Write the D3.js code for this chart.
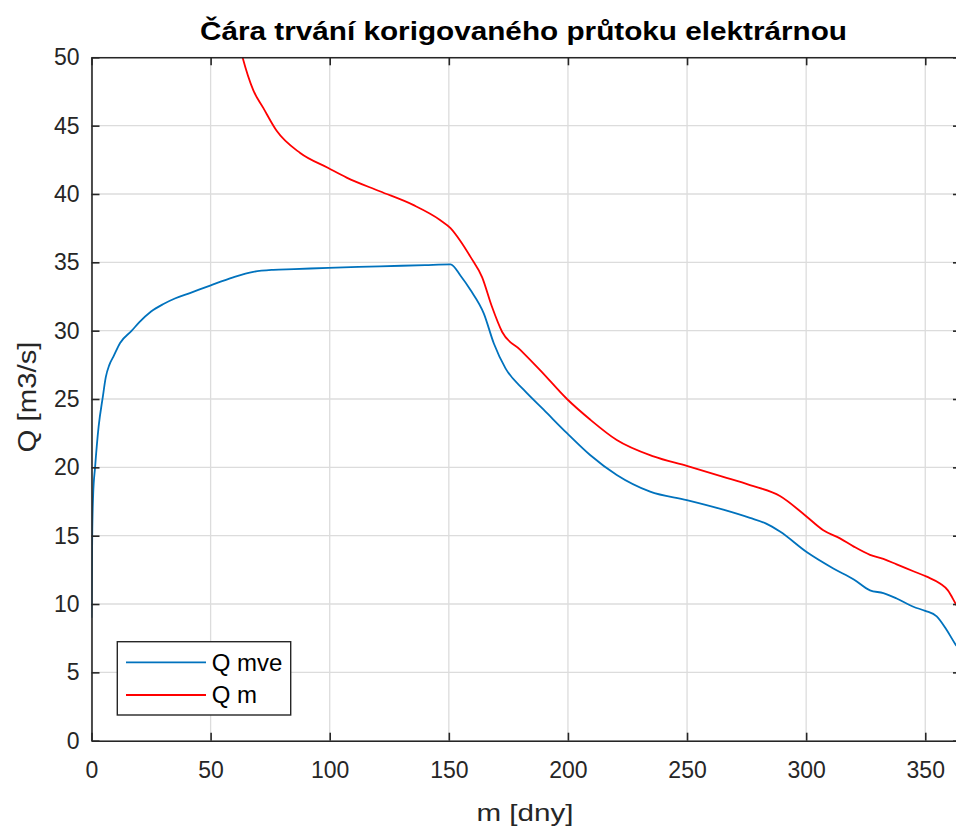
<!DOCTYPE html>
<html>
<head>
<meta charset="utf-8">
<script src="https://cdn.jsdelivr.net/npm/d3@7"></script>
<style>
  html, body { margin: 0; padding: 0; background: #fff; }
  svg { display: block; font-family: "Liberation Sans", Arial, Helvetica, sans-serif; }
</style>
</head>
<body>
<svg id="chart" width="956" height="827"></svg>
<script>
// ---- data ----
const titleText = "Čára trvání korigovaného průtoku elektrárnou";
const xLabel = "m [dny]";
const yLabel = "Q [m3/s]";
const seriesNames = ["Q mve", "Q m"];
const xTicks = [0, 50, 100, 150, 200, 250, 300, 350];
const yTicks = [0, 5, 10, 15, 20, 25, 30, 35, 40, 45, 50];

// Q mve (blue): [day, value]
const qmveDays = [0, 0.3, 0.7, 1.5, 3, 4.7, 6, 7.5, 9.2, 12, 16.9, 20, 25, 30.2, 35, 41.3, 49.8, 59.5, 67.9, 76.3, 85, 99.4, 121, 140, 150.7,
  155, 159.1, 164.7, 168.9, 173.8, 181.5, 189.9, 199.6, 209.3, 220.5, 234.5, 249.9, 265.2, 276.4, 283, 289, 300.2, 311.4, 320, 326.8, 332.4, 338, 345, 350, 354.8, 359, 362.5, 365];
const qmveVals = [9.0, 15.0, 18.0, 20.0, 23.0, 25.1, 26.6, 27.5, 28.1, 29.1, 30.0, 30.6, 31.4, 31.95, 32.35, 32.75, 33.3, 33.9, 34.3, 34.45, 34.5, 34.6, 34.7, 34.8, 34.85,
  34.0, 32.97, 31.25, 29.06, 27.24, 25.66, 24.2, 22.5, 20.9, 19.44, 18.22, 17.6, 16.9, 16.3, 15.9, 15.3, 13.8, 12.6, 11.8, 11.0, 10.8, 10.4, 9.8, 9.5, 9.1, 8.1, 7.1, 6.5];

// Q m (red): [day, value]
const qmDays = [55, 60, 63.1, 67.9, 72.1, 77.8, 87.6, 99.4, 107.1, 121, 135, 146.3, 150.7, 154.7, 159.1, 164, 168, 172.4, 180, 188.4, 199.6, 209.3, 220.5, 235.9, 249.9, 265.2, 276.4, 289, 299.5, 307.2, 314.2, 320, 326.8, 332.4, 338, 345, 350.6, 356.2, 359.5, 362.5, 365];
const qmVals = [57, 52.5, 50.2, 47.6, 46.3, 44.6, 43.0, 41.9, 41.2, 40.2, 39.2, 38.1, 37.5, 36.6, 35.4, 33.9, 31.8, 29.9, 28.6, 27.1, 25.0, 23.5, 22.0, 20.8, 20.1, 19.3, 18.7, 17.9, 16.5, 15.4, 14.8, 14.2, 13.6, 13.3, 12.9, 12.4, 12.0, 11.5, 11.0, 10.1, 9.3];

const colors = ["#0072BD", "#FF0000"];

// ---- layout ----
const svg = d3.select("#chart");
const pL = 91.5, pR = 961, pT = 57.3, pB = 740.7;
const x = d3.scaleLinear().domain([0, 365]).range([pL, pR]);
const y = d3.scaleLinear().domain([0, 50]).range([pB, pT]);
const axisColor = "#262626";
const fontSize = 23;

svg.append("defs").append("clipPath").attr("id", "plotclip")
  .append("rect").attr("x", pL).attr("y", pT).attr("width", pR - pL).attr("height", pB - pT);

// grid
const grid = svg.append("g").attr("class", "grid");
grid.selectAll("line.gx").data(xTicks).enter().append("line")
  .attr("x1", d => x(d)).attr("x2", d => x(d)).attr("y1", pT).attr("y2", pB)
  .attr("stroke", "#dcdcdc").attr("stroke-width", 1.3);
grid.selectAll("line.gy").data(yTicks).enter().append("line")
  .attr("y1", d => y(d)).attr("y2", d => y(d)).attr("x1", pL).attr("x2", pR)
  .attr("stroke", "#dcdcdc").attr("stroke-width", 1.3);

// lines
const line = d3.line().x(d => x(d[0])).y(d => y(d[1])).curve(d3.curveMonotoneX);
const series = [d3.zip(qmveDays, qmveVals), d3.zip(qmDays, qmVals)];
const plot = svg.append("g").attr("clip-path", "url(#plotclip)");
series.forEach((s, i) => {
  plot.append("path").datum(s).attr("d", line)
    .attr("fill", "none").attr("stroke", colors[i]).attr("stroke-width", 1.8)
    .attr("stroke-linejoin", "round");
});

// axes (ticks inward, mirrored)
function styleAxis(g) {
  g.selectAll(".domain").attr("stroke", axisColor).attr("stroke-width", 1.6);
  g.selectAll(".tick line").attr("stroke", axisColor).attr("stroke-width", 1.6);
  g.selectAll(".tick text").attr("fill", axisColor).attr("font-size", fontSize).attr("font-family", "Liberation Sans, Arial, sans-serif");
}
const xAxis = svg.append("g").attr("transform", `translate(0,${pB})`)
  .call(d3.axisBottom(x).tickValues(xTicks).tickSizeInner(-8).tickSizeOuter(0).tickPadding(21));
styleAxis(xAxis);
const xAxisTop = svg.append("g").attr("transform", `translate(0,${pT})`)
  .call(d3.axisTop(x).tickValues(xTicks).tickSizeInner(-8).tickSizeOuter(0).tickFormat(""));
styleAxis(xAxisTop);
const yAxis = svg.append("g").attr("transform", `translate(${pL},0)`)
  .call(d3.axisLeft(y).tickValues(yTicks).tickSizeInner(-8).tickSizeOuter(0).tickPadding(12));
styleAxis(yAxis);
const yAxisRight = svg.append("g").attr("transform", `translate(${pR},0)`)
  .call(d3.axisRight(y).tickValues(yTicks).tickSizeInner(-8).tickSizeOuter(0).tickFormat(""));
styleAxis(yAxisRight);

// title and labels
svg.append("text").attr("x", 523.5).attr("y", 39.5).attr("text-anchor", "middle")
  .attr("font-size", 25).attr("font-weight", "bold").attr("fill", "#000")
  .attr("textLength", 647).attr("lengthAdjust", "spacingAndGlyphs").text(titleText);
svg.append("text").attr("x", 525).attr("y", 821).attr("text-anchor", "middle")
  .attr("font-size", 24).attr("fill", axisColor)
  .attr("textLength", 97).attr("lengthAdjust", "spacingAndGlyphs").text(xLabel);
svg.append("text").attr("transform", `translate(35.5,397) rotate(-90)`).attr("text-anchor", "middle")
  .attr("font-size", 25).attr("fill", axisColor)
  .attr("textLength", 111).attr("lengthAdjust", "spacingAndGlyphs").text(yLabel);

// legend
const lg = svg.append("g");
lg.append("rect").attr("x", 117.3).attr("y", 641.7).attr("width", 173.4).attr("height", 73.3)
  .attr("fill", "#fff").attr("stroke", axisColor).attr("stroke-width", 1.4);
seriesNames.forEach((name, i) => {
  const ly = 662.3 + i * 32.7;
  lg.append("line").attr("x1", 126).attr("x2", 206).attr("y1", ly).attr("y2", ly)
    .attr("stroke", colors[i]).attr("stroke-width", 1.8);
  lg.append("text").attr("x", 211.7).attr("y", ly + 8.3).attr("font-size", 24)
    .attr("fill", "#000").text(name);
});
</script>
</body>
</html>
